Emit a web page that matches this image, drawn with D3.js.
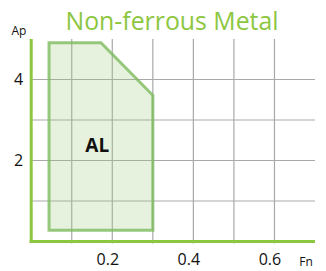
<!DOCTYPE html>
<html>
<head>
<meta charset="utf-8">
<script src="https://cdn.jsdelivr.net/npm/d3@7"></script>
<style>
  body { margin: 0; background: #fff; }
  text { font-family: "Open Sans", sans-serif; }
</style>
</head>
<body>
<div id="chart"></div>
<script>
// Datos del gráfico
const title = 'Non-ferrous Metal';
const xTicks = [0.2, 0.4, 0.6];
const xGrid = [0.1, 0.2, 0.3, 0.4, 0.5, 0.6];
const yTicks = [2, 4];
const yGrid = [1, 2, 3, 4];
const regionName = 'AL';
const regionFn = [0.044, 0.172, 0.3, 0.3, 0.044];
const regionAp = [4.91, 4.91, 3.61, 0.28, 0.28];
const labelFn = 0.163;
const labelAp = 2.2;

const W = 326, H = 271;
const margin = { top: 39, right: 11, bottom: 29.5, left: 31.2 };
const green = '#8dc63f';

const svg = d3.select('#chart').append('svg')
  .attr('width', W).attr('height', H);

const x = d3.scaleLinear().domain([0, 0.7]).range([margin.left, W - margin.right]);
const y = d3.scaleLinear().domain([0, 5]).range([H - margin.bottom, margin.top]);

// Rejilla
svg.append('g').selectAll('line').data(xGrid).enter().append('line')
  .attr('x1', d => x(d)).attr('x2', d => x(d))
  .attr('y1', y(5)).attr('y2', y(0) + 2)
  .attr('stroke', '#a9a9a9').attr('stroke-width', 1.2);

svg.append('g').selectAll('line').data(yGrid).enter().append('line')
  .attr('x1', x(0)).attr('x2', x(0.7))
  .attr('y1', d => y(d)).attr('y2', d => y(d))
  .attr('stroke', '#a9a9a9').attr('stroke-width', 1.2);

// Región
const pts = regionFn.map((f, i) => [x(f), y(regionAp[i])]);
svg.append('path')
  .attr('d', d3.line()(pts) + 'Z')
  .attr('fill', '#9ccc7c').attr('fill-opacity', 0.25)
  .attr('stroke', '#7dba5e').attr('stroke-opacity', 0.8)
  .attr('stroke-width', 3).attr('stroke-linejoin', 'miter');

svg.append('text')
  .attr('x', x(labelFn)).attr('y', y(labelAp))
  .attr('text-anchor', 'middle')
  .style('font-size', '19px').style('font-weight', 'bold')
  .attr('fill', '#111')
  .text(regionName);

// Ejes
svg.append('line')
  .attr('x1', x(0)).attr('x2', x(0))
  .attr('y1', y(5)).attr('y2', y(0) + 1.5)
  .attr('stroke', green).attr('stroke-width', 3);
svg.append('line')
  .attr('x1', x(0) - 1.5).attr('x2', x(0.7))
  .attr('y1', y(0)).attr('y2', y(0))
  .attr('stroke', green).attr('stroke-width', 3);

const xAxis = svg.append('g')
  .attr('transform', `translate(-5,${y(0)})`)
  .call(d3.axisBottom(x).tickValues(xTicks).tickSize(0).tickPadding(12).tickFormat(d3.format('.1f')));
xAxis.select('.domain').remove();
xAxis.selectAll('text').style('font-size', '16px').attr('fill', '#111')
  .style('font-family', '"Open Sans", sans-serif');

const yAxis = svg.append('g')
  .attr('transform', `translate(${x(0)},0)`)
  .call(d3.axisLeft(y).tickValues(yTicks).tickSize(0).tickPadding(8).tickFormat(d3.format('d')));
yAxis.select('.domain').remove();
yAxis.selectAll('text').style('font-size', '16px').attr('fill', '#111')
  .style('font-family', '"Open Sans", sans-serif');

// Títulos
svg.append('text')
  .attr('x', 172).attr('y', 30)
  .attr('text-anchor', 'middle')
  .style('font-size', '26px')
  .attr('fill', green)
  .attr('textLength', 213).attr('lengthAdjust', 'spacingAndGlyphs')
  .text(title);

svg.append('text')
  .attr('x', 19).attr('y', 35)
  .attr('text-anchor', 'middle')
  .style('font-size', '12px')
  .attr('fill', '#111')
  .text('Ap');

svg.append('text')
  .attr('x', 306).attr('y', 265.5)
  .attr('text-anchor', 'middle')
  .style('font-size', '12px')
  .attr('fill', '#111')
  .text('Fn');
</script>
</body>
</html>
